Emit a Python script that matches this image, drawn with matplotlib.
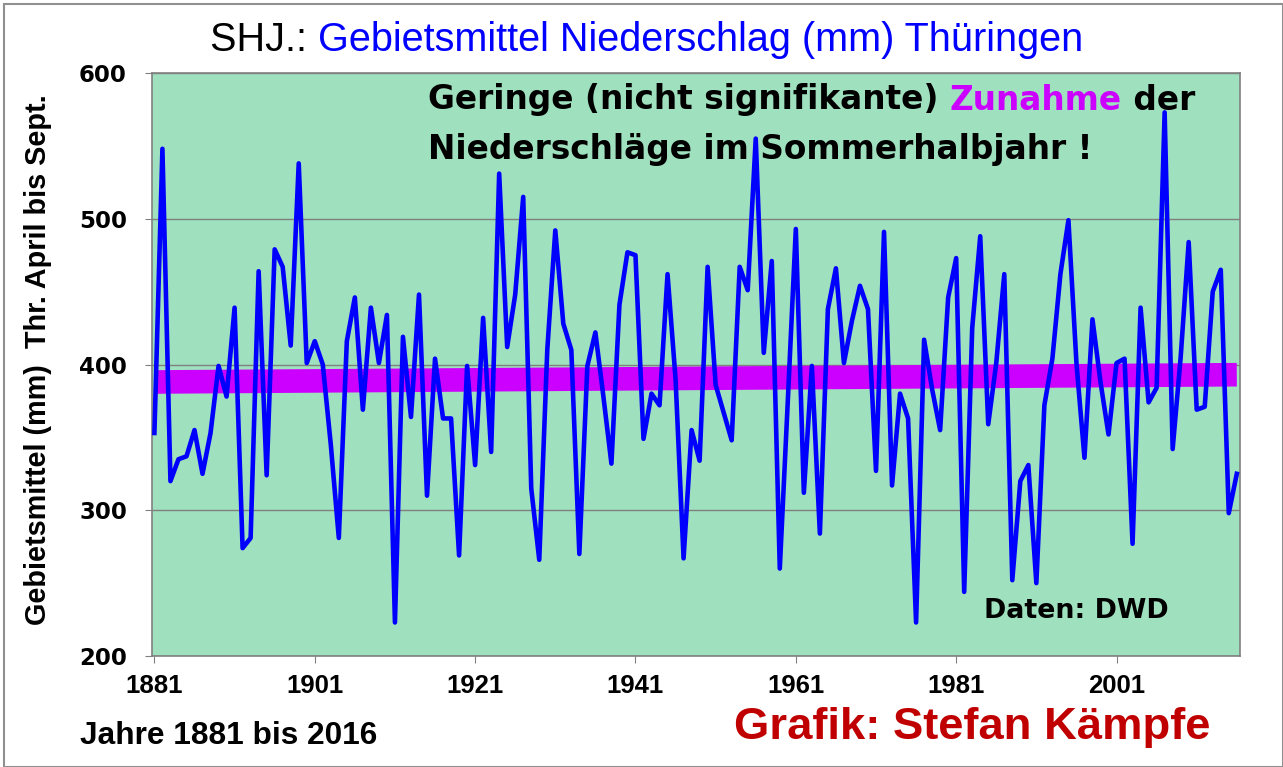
import matplotlib
matplotlib.use("Agg")
import matplotlib.pyplot as plt
from matplotlib.patches import Rectangle
import numpy as np

plt.rcParams["font.family"] = ["Liberation Sans", "DejaVu Sans"]

# ── data ────────────────────────────────────────────────────────────────────
years = np.arange(1881, 2017)
precip = [
    353, 548, 320, 335, 337, 355, 325, 353, 399, 378,   # 1881-1890
    439, 274, 281, 464, 324, 479, 467, 413, 538, 401,   # 1891-1900
    416, 400, 345, 281, 416, 446, 369, 439, 401, 434,   # 1901-1910
    223, 419, 364, 448, 310, 404, 363, 363, 269, 399,   # 1911-1920
    331, 432, 340, 531, 412, 448, 515, 315, 266, 410,   # 1921-1930
    492, 428, 410, 270, 399, 422, 378, 332, 441, 477,   # 1931-1940
    475, 349, 380, 372, 462, 390, 267, 355, 334, 467,   # 1941-1950
    386, 367, 348, 467, 451, 555, 408, 471, 260, 375,   # 1951-1960
    493, 312, 399, 284, 438, 466, 401, 430, 454, 438,   # 1961-1970
    327, 491, 317, 380, 363, 223, 417, 383, 355, 446,   # 1971-1980
    473, 244, 425, 488, 359, 401, 462, 252, 320, 331,   # 1981-1990
    250, 372, 404, 462, 499, 401, 336, 431, 388, 352,   # 1991-2000
    401, 404, 277, 439, 374, 384, 573, 342, 405, 484,   # 2001-2010
    369, 371, 450, 465, 298, 325,                       # 2011-2016
]
trend_years = [1881, 2016]
trend_vals = [388, 393]
xtick_years = [1881, 1901, 1921, 1941, 1961, 1981, 2001]
ytick_vals = [200, 300, 400, 500, 600]

# ── colours ─────────────────────────────────────────────────────────────────
C_BG = "#9FE0BE"
C_LINE = "#0000FF"
C_TREND = "#CC00FF"
C_RED = "#C00000"
C_GREY = "#808080"

W, H = 1283, 767
fig = plt.figure(figsize=(W / 100, H / 100), dpi=100)
fig.patch.set_facecolor("white")
ax = fig.add_axes([152 / W, 1 - 656 / H, (1240 - 152) / W, (656 - 73) / H])
ax.set_facecolor(C_BG)

ax.plot(trend_years, trend_vals, color=C_TREND, lw=17, solid_capstyle="butt", zorder=2)
ax.plot(years, precip, color=C_LINE, lw=3.3, zorder=3)

ax.set_xlim(1880.7, 2016.4)
ax.set_ylim(200, 600)
ax.set_xticks(xtick_years)
ax.set_yticks(ytick_vals)
ax.grid(axis="y", color=C_GREY, lw=1.0, zorder=1)
ax.set_axisbelow(True)
for s in ax.spines.values():
    s.set_color(C_GREY)
    s.set_linewidth(1.2)
ax.tick_params(axis="x", length=5, color=C_GREY, labelsize=18.5, pad=8)
ax.tick_params(axis="y", length=5, color=C_GREY, pad=13)
for lbl in ax.get_xticklabels():
    lbl.set_fontweight("bold")
for lbl in ax.get_yticklabels():
    lbl.set_fontweight("bold")
    lbl.set_fontfamily("DejaVu Sans")
    lbl.set_fontsize(16.5)

fig.text(38 / W, 1 - 360 / H, "Gebietsmittel (mm)  Thr. April bis Sept.",
         rotation=90, fontsize=20.8, fontweight="bold", ha="center", va="center")


def chain(x_px, y_px, parts, **kw):
    """Place coloured text pieces one after another on a single line."""
    renderer = fig.canvas.get_renderer()
    x = x_px
    for s, c in parts:
        t = fig.text(x / W, 1 - y_px / H, s, color=c, ha="left", va="center", **kw)
        x += t.get_window_extent(renderer).width


chain(210, 40, [("SHJ.: ", "black"),
                ("Gebietsmittel Niederschlag (mm) Thüringen", C_LINE)],
      fontsize=28.5)
chain(428, 100, [("Geringe (nicht signifikante) ", "black"),
                 ("Zunahme", C_TREND), (" der", "black")],
      fontsize=23.6, fontweight="bold", family="DejaVu Sans")
chain(428, 149, [("Niederschläge im Sommerhalbjahr !", "black")],
      fontsize=23.6, fontweight="bold", family="DejaVu Sans")

fig.text(984 / W, 1 - 611 / H, "Daten: DWD", fontsize=19.3, fontweight="bold",
         family="DejaVu Sans", ha="left", va="center")
fig.text(80 / W, 1 - 736 / H, "Jahre 1881 bis 2016", fontsize=22.8,
         fontweight="bold", ha="left", va="center")
fig.text(734 / W, 1 - 728 / H, "Grafik: Stefan Kämpfe", fontsize=32.7,
         fontweight="bold", color=C_RED, ha="left", va="center")

# outer frame
fig.patches.append(Rectangle((4 / W, 0), 1 - 4 / W, 1 - 4 / H,
                             transform=fig.transFigure, fill=False,
                             edgecolor="#909090", lw=1.5))

fig.savefig("out.png", dpi=100, facecolor="white")
